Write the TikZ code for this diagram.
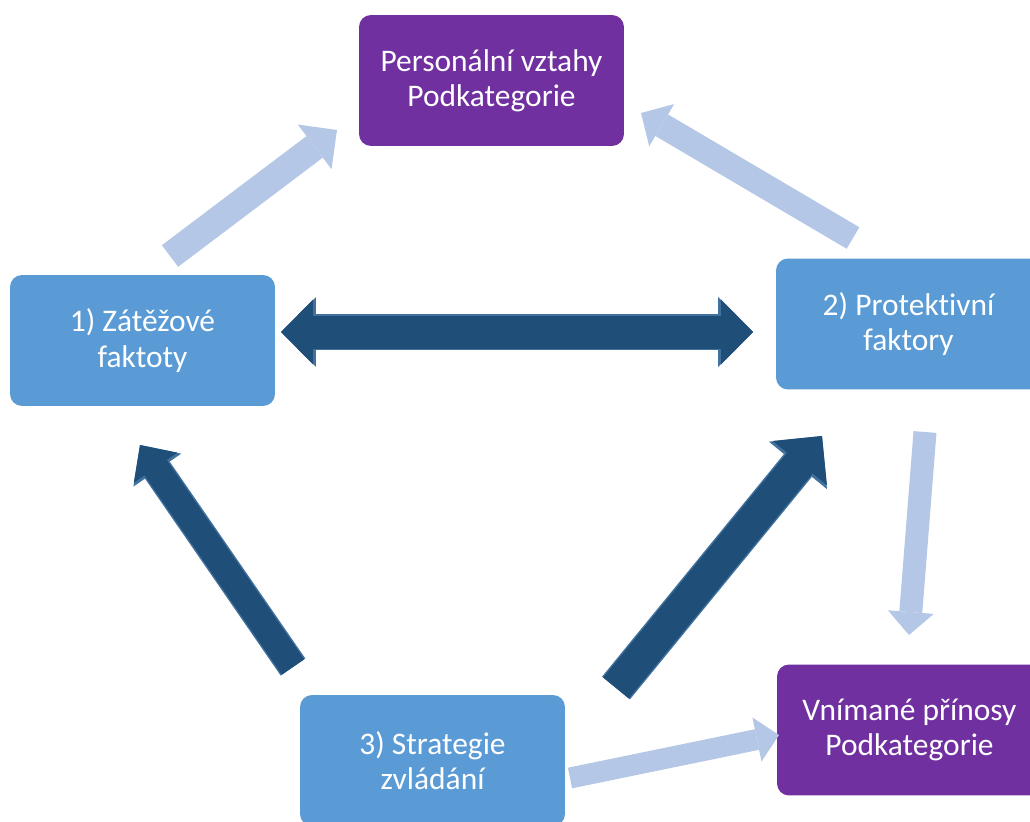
\documentclass[tikz,border=0pt]{standalone}
\usepackage{fontspec}
\setmainfont{Carlito}[Ligatures=NoCommon, Contextuals=NoAlternate]
\usetikzlibrary{arrows.meta}

\definecolor{catpurple}{HTML}{7030A0}
\definecolor{factorblue}{HTML}{5B9BD5}
\definecolor{paleblue}{HTML}{B4C7E7}
\definecolor{darkblue}{HTML}{1F4E79}
\definecolor{darkedge}{HTML}{41719C}

\tikzset{
  box/.style={rounded corners=0.24cm, minimum width=5.3cm, minimum height=2.62cm,
    inner sep=0pt, align=center, text=white, font=\fontsize{17.9}{20}\selectfont},
  cat/.style={box, fill=catpurple},
  factor/.style={box, fill=factorblue},
  % block arrows: shaft width, head width, head length
  pale/.style n args={3}{draw=paleblue, line width=#1,
    -{Triangle[width=#2, length=#3, line width=0pt]}},
  dark/.style n args={3}{draw=darkblue, line width=#1,
    -{Triangle[width=#2, length=#3, line width=0pt]},
    preaction={draw=darkedge, line width=#1+0.06cm,
      -{Triangle[width=#2+0.1cm, length=#3+0.06cm, line width=0pt]}}},
  darkpair/.style n args={3}{draw=darkblue, line width=#1,
    arrows={Triangle[width=#2, length=#3, line width=0pt]-Triangle[width=#2, length=#3, line width=0pt]},
    preaction={draw=darkedge, line width=#1+0.06cm,
      arrows={Triangle[width=#2+0.1cm, length=#3+0.06cm, line width=0pt]-Triangle[width=#2+0.1cm, length=#3+0.06cm, line width=0pt]}}},
}

\begin{document}
\begin{tikzpicture}[x=0.02cm, y=-0.02cm]
  \useasboundingbox (0,0) rectangle (1030,821);

  \node[cat] (pers) at (491.5,80.5) {Personální vztahy\\Podkategorie};
  \node[factor] (zat) at (142.5,340.5) {1) Zátěžové\\faktoty};
  \node[factor] (prot) at (908.5,324) {2) Protektivní\\faktory};
  \node[factor] (strat) at (432.5,760.5) {3) Strategie\\zvládání};
  \node[cat] (vnim) at (909.5,730) {Vnímané přínosy\\Podkategorie};

  \coordinate (zp0) at (170,256);
  \coordinate (zp1) at (337,130);
  \coordinate (pp0) at (853,238);
  \coordinate (pp1) at (641,113);
  \coordinate (zz0) at (281,332);
  \coordinate (zz1) at (753,332);
  \coordinate (sz0) at (293,667);
  \coordinate (sz1) at (140,445);
  \coordinate (sp0) at (616,688);
  \coordinate (sp1) at (822,436);
  \coordinate (pv0) at (925,432);
  \coordinate (pv1) at (909,635);
  \coordinate (sv0) at (570,778);
  \coordinate (sv1) at (779,735);

  \draw[pale={0.54cm}{1.12cm}{0.56cm}] (zp0) -- (zp1);
  \draw[pale={0.5cm}{0.98cm}{0.48cm}] (pp0) -- (pp1);
  \draw[pale={0.46cm}{0.92cm}{0.46cm}] (pv0) -- (pv1);
  \draw[pale={0.42cm}{0.9cm}{0.45cm}] (sv0) -- (sv1);
  \draw[darkpair={0.66cm}{1.3cm}{0.64cm}] (zz0) -- (zz1);
  \draw[dark={0.54cm}{1.06cm}{0.55cm}] (sz0) -- (sz1);
  \draw[dark={0.66cm}{1.4cm}{0.7cm}] (sp0) -- (sp1);
\end{tikzpicture}
\end{document}
